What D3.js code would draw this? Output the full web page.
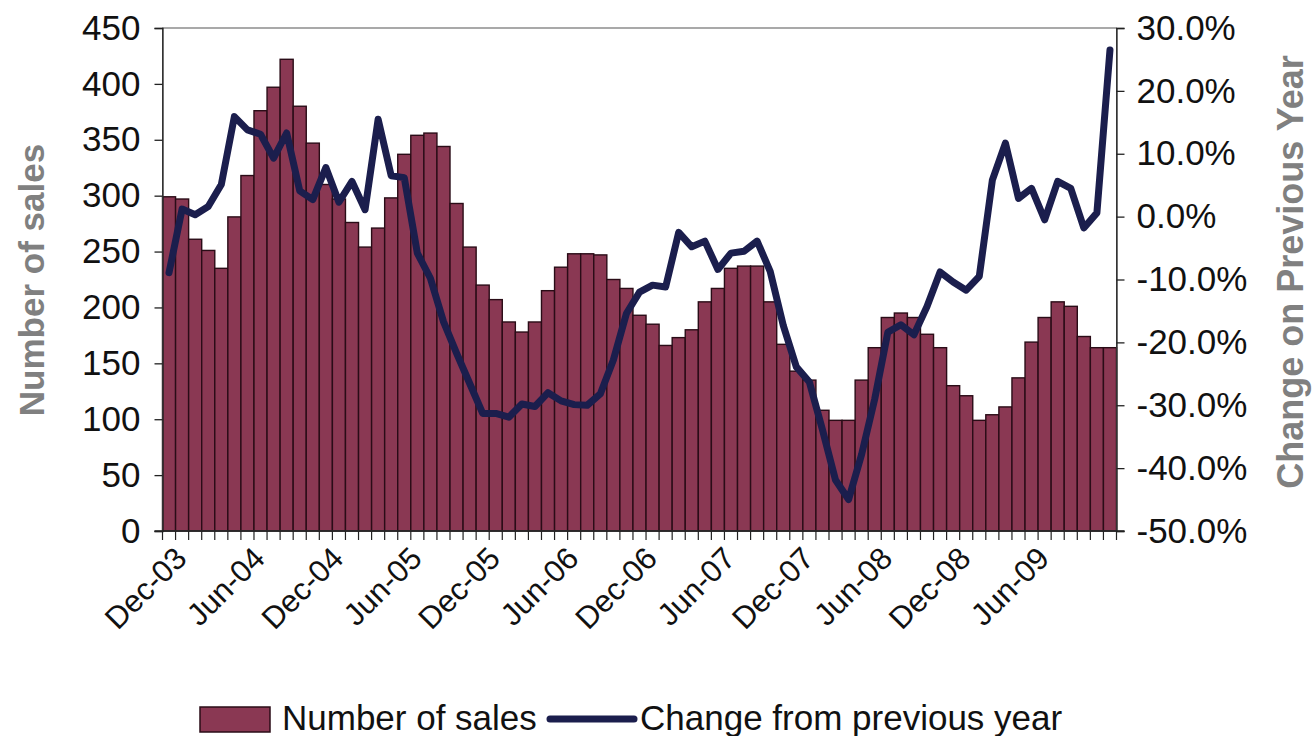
<!DOCTYPE html>
<html>
<head>
<meta charset="utf-8">
<script src="https://cdn.jsdelivr.net/npm/d3@7"></script>
<style>
  body { margin: 0; background: #fff; }
  svg text { font-family: "Liberation Sans", Arial, sans-serif; fill: #111; }
</style>
</head>
<body>
<svg id="chart" width="1312" height="736"></svg>
<script>
// monthly categories, Dec-03 .. Dec-09
const months = [
  'Dec-03','Jan-04','Feb-04','Mar-04','Apr-04','May-04','Jun-04','Jul-04','Aug-04','Sep-04','Oct-04','Nov-04',
  'Dec-04','Jan-05','Feb-05','Mar-05','Apr-05','May-05','Jun-05','Jul-05','Aug-05','Sep-05','Oct-05','Nov-05',
  'Dec-05','Jan-06','Feb-06','Mar-06','Apr-06','May-06','Jun-06','Jul-06','Aug-06','Sep-06','Oct-06','Nov-06',
  'Dec-06','Jan-07','Feb-07','Mar-07','Apr-07','May-07','Jun-07','Jul-07','Aug-07','Sep-07','Oct-07','Nov-07',
  'Dec-07','Jan-08','Feb-08','Mar-08','Apr-08','May-08','Jun-08','Jul-08','Aug-08','Sep-08','Oct-08','Nov-08',
  'Dec-08','Jan-09','Feb-09','Mar-09','Apr-09','May-09','Jun-09','Jul-09','Aug-09','Sep-09','Oct-09','Nov-09',
  'Dec-09'
];

const sales = [
  299, 297, 261, 251, 235, 281, 318, 376, 397, 422, 380, 347,
  310, 297, 276, 254, 271, 298, 337, 354, 356, 344, 293, 254,
  220, 207, 187, 178, 187, 215, 236, 248, 248, 247, 225, 217,
  193, 185, 166, 173, 180, 205, 217, 235, 237, 237, 205, 167,
  143, 135, 108, 99, 99, 135, 164, 191, 195, 191, 176, 164,
  130, 121, 99, 104, 111, 137, 169, 191, 205, 201, 174, 164,
  164
];

// % change on previous year
const change = [
  -8.9, 1.2, 0.3, 1.6, 5.1, 15.9, 13.8, 13.1, 9.3, 13.3, 4.1, 2.7,
  7.8, 2.3, 5.6, 1.1, 15.5, 6.5, 6.2, -5.8, -9.8, -16.7, -21.7, -26.5,
  -31.3, -31.3, -31.9, -29.8, -30.2, -28.0, -29.3, -29.9, -30.0, -28.2, -22.8, -15.4,
  -12.0, -10.9, -11.2, -2.5, -4.8, -3.9, -8.4, -5.8, -5.5, -3.9, -8.7, -17.3,
  -23.9, -26.3, -33.9, -41.9, -45.0, -37.8, -29.0, -18.4, -17.2, -18.8, -14.3, -8.8,
  -10.4, -11.7, -9.5, 5.8, 11.7, 2.9, 4.5, -0.5, 5.6, 4.5, -1.8, 0.6,
  26.5
];

const xLabels = ['Dec-03','Jun-04','Dec-04','Jun-05','Dec-05','Jun-06','Dec-06','Jun-07','Dec-07','Jun-08','Dec-08','Jun-09'];
const salesTicks = [0, 50, 100, 150, 200, 250, 300, 350, 400, 450];
const changeTicks = [-50, -40, -30, -20, -10, 0, 10, 20, 30];

const barFill = '#8a3853', barEdge = '#2a0c17', lineCol = '#1b1e4d';
const plotL = 162.5, plotR = 1116.5, plotT = 28, plotB = 531;

const svg = d3.select('#chart');
const x = d3.scaleBand().domain(months).range([plotL, plotR]).padding(0);
const yL = d3.scaleLinear().domain([0, 450]).range([plotB, plotT]);
const yR = d3.scaleLinear().domain([-50, 30]).range([plotB, plotT]);
const bw = x.bandwidth();

// bars
svg.append('g').selectAll('rect')
  .data(months)
  .join('rect')
  .attr('x', d => x(d))
  .attr('y', (d, i) => yL(sales[i]))
  .attr('width', bw)
  .attr('height', (d, i) => plotB - yL(sales[i]))
  .attr('fill', barFill)
  .attr('stroke', barEdge)
  .attr('stroke-width', 1.4);

// plot frame (top / right border)
svg.append('rect')
  .attr('x', plotL).attr('y', plotT)
  .attr('width', plotR - plotL).attr('height', plotB - plotT)
  .attr('fill', 'none').attr('stroke', '#555').attr('stroke-width', 1);

// line
const line = d3.line()
  .x((d, i) => x(months[i]) + bw / 2)
  .y(d => yR(d));
svg.append('path')
  .datum(change)
  .attr('d', line)
  .attr('fill', 'none')
  .attr('stroke', lineCol)
  .attr('stroke-width', 7)
  .attr('stroke-linejoin', 'round')
  .attr('stroke-linecap', 'round');

// left axis
const gl = svg.append('g')
  .attr('transform', `translate(${plotL},0)`)
  .call(d3.axisLeft(yL).tickValues(salesTicks).tickSize(8).tickPadding(14));
// right axis (plain hyphen for negatives, like the source)
const gr = svg.append('g')
  .attr('transform', `translate(${plotR},0)`)
  .call(d3.axisRight(yR).tickValues(changeTicks).tickSize(8).tickPadding(12)
    .tickFormat(d => d.toFixed(1) + '%'));
[gl, gr].forEach(g => {
  g.select('.domain').attr('stroke', '#222').attr('stroke-width', 1.3);
  g.selectAll('.tick line').attr('stroke', '#222').attr('stroke-width', 1.3);
  g.selectAll('.tick text').attr('font-size', 35).attr('fill', '#111');
});

// bottom axis: line, ticks between categories, rotated labels
const gb = svg.append('g');
gb.append('line')
  .attr('x1', plotL - 8).attr('x2', plotR + 8)
  .attr('y1', plotB).attr('y2', plotB)
  .attr('stroke', '#222').attr('stroke-width', 1.3);
gb.selectAll('line.tk')
  .data(months.concat(['end']))
  .join('line')
  .attr('class', 'tk')
  .attr('x1', (d, i) => plotL + i * bw).attr('x2', (d, i) => plotL + i * bw)
  .attr('y1', plotB).attr('y2', plotB + 9)
  .attr('stroke', '#222').attr('stroke-width', 1.2);
gb.selectAll('text')
  .data(xLabels)
  .join('text')
  .attr('transform', d => `translate(${x(d) + bw / 2 + 4},${plotB + 14}) rotate(-45)`)
  .attr('text-anchor', 'end')
  .attr('dy', '0.7em')
  .attr('font-size', 31)
  .text(d => d);

// axis titles
svg.append('text')
  .attr('transform', 'translate(44,280) rotate(-90)')
  .attr('text-anchor', 'middle')
  .attr('font-size', 35).attr('font-weight', 'bold')
  .style('fill', '#808080')
  .text('Number of sales');
svg.append('text')
  .attr('transform', 'translate(1303,272) rotate(-90)')
  .attr('text-anchor', 'middle')
  .attr('font-size', 36).attr('font-weight', 'bold')
  .style('fill', '#808080')
  .text('Change on Previous Year');

// legend
const lg = svg.append('g');
lg.append('rect')
  .attr('x', 200).attr('y', 707).attr('width', 70).attr('height', 25)
  .attr('fill', barFill).attr('stroke', barEdge).attr('stroke-width', 1.5);
lg.append('text').attr('x', 282).attr('y', 730).attr('font-size', 35).text('Number of sales');
lg.append('line')
  .attr('x1', 550).attr('x2', 634).attr('y1', 719).attr('y2', 719)
  .attr('stroke', lineCol).attr('stroke-width', 7).attr('stroke-linecap', 'round');
lg.append('text').attr('x', 640).attr('y', 730).attr('font-size', 35).text('Change from previous year');
</script>
</body>
</html>
